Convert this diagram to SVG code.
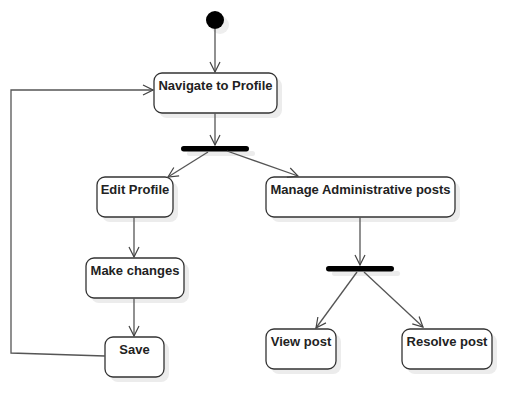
<svg xmlns="http://www.w3.org/2000/svg" width="531" height="417" viewBox="0 0 531 417">
<style>
.box{fill:#ffffff;stroke:#333333;stroke-width:1.3}
.sh{fill:#ececec;stroke:none}
.bar{fill:#000000}
.lbl{font-family:"Liberation Sans",Arial,sans-serif;font-size:13px;font-weight:bold;fill:#222222;text-anchor:middle}
.edge{fill:none;stroke:#555555;stroke-width:1.3}
</style>
<defs>
<marker id="arr" viewBox="0 0 12 12" refX="11" refY="6" markerWidth="12" markerHeight="12" markerUnits="userSpaceOnUse" orient="auto">
<path d="M1,1 L11,6 L1,11" fill="none" stroke="#444444" stroke-width="1.2"/>
</marker>
</defs>
<rect width="531" height="417" fill="#ffffff"/>
<g id="start">
<circle cx="220" cy="25" r="9" fill="#eeeeee"/>
<circle cx="215" cy="20" r="9" fill="#000000"/>
</g>
<g id="navigate">
<rect class="sh" x="159" y="78" width="123" height="40" rx="8"/>
<rect class="box" x="154" y="73" width="123" height="40" rx="8"/>
<text class="lbl" x="215.5" y="90">Navigate to Profile</text>
</g>
<g id="fork1">
<rect class="sh" x="187" y="151" width="68" height="5" rx="2.5"/>
<rect class="bar" x="181" y="146" width="68" height="5.5" rx="2.75"/>
</g>
<g id="edit">
<rect class="sh" x="102" y="182" width="76" height="40" rx="8"/>
<rect class="box" x="97" y="177" width="76" height="40" rx="8"/>
<text class="lbl" x="135" y="194">Edit Profile</text>
</g>
<g id="manage">
<rect class="sh" x="271" y="182" width="189" height="40" rx="8"/>
<rect class="box" x="266" y="177" width="189" height="40" rx="8"/>
<text class="lbl" x="360.5" y="194">Manage Administrative posts</text>
</g>
<g id="make">
<rect class="sh" x="91" y="263" width="98" height="40" rx="8"/>
<rect class="box" x="86" y="258" width="98" height="40" rx="8"/>
<text class="lbl" x="135" y="275">Make changes</text>
</g>
<g id="save">
<rect class="sh" x="110" y="342" width="59" height="40" rx="8"/>
<rect class="box" x="105" y="337" width="59" height="40" rx="8"/>
<text class="lbl" x="134.5" y="354">Save</text>
</g>
<g id="fork2">
<rect class="sh" x="332" y="271" width="68" height="5" rx="2.5"/>
<rect class="bar" x="326" y="266" width="68" height="5.5" rx="2.75"/>
</g>
<g id="view">
<rect class="sh" x="271" y="334" width="70" height="40" rx="8"/>
<rect class="box" x="266" y="329" width="70" height="40" rx="8"/>
<text class="lbl" x="301" y="346">View post</text>
</g>
<g id="resolve">
<rect class="sh" x="407" y="334" width="90" height="40" rx="8"/>
<rect class="box" x="402" y="329" width="90" height="40" rx="8"/>
<text class="lbl" x="447" y="346">Resolve post</text>
</g>
<g id="connectors">
<path class="edge" d="M215,29 L215,72" marker-end="url(#arr)"/>
<path class="edge" d="M215,113 L215,145" marker-end="url(#arr)"/>
<path class="edge" d="M208,152 L168,177" marker-end="url(#arr)"/>
<path class="edge" d="M227,151 L298,176" marker-end="url(#arr)"/>
<path class="edge" d="M134,217 L134,257" marker-end="url(#arr)"/>
<path class="edge" d="M134,298 L134,336" marker-end="url(#arr)"/>
<path class="edge" d="M105,356 L11,353 L11,90 L153,90" marker-end="url(#arr)"/>
<path class="edge" d="M360,217 L360,265" marker-end="url(#arr)"/>
<path class="edge" d="M357,272 L316,328" marker-end="url(#arr)"/>
<path class="edge" d="M364,272 L423,327" marker-end="url(#arr)"/>
</g>
</svg>
